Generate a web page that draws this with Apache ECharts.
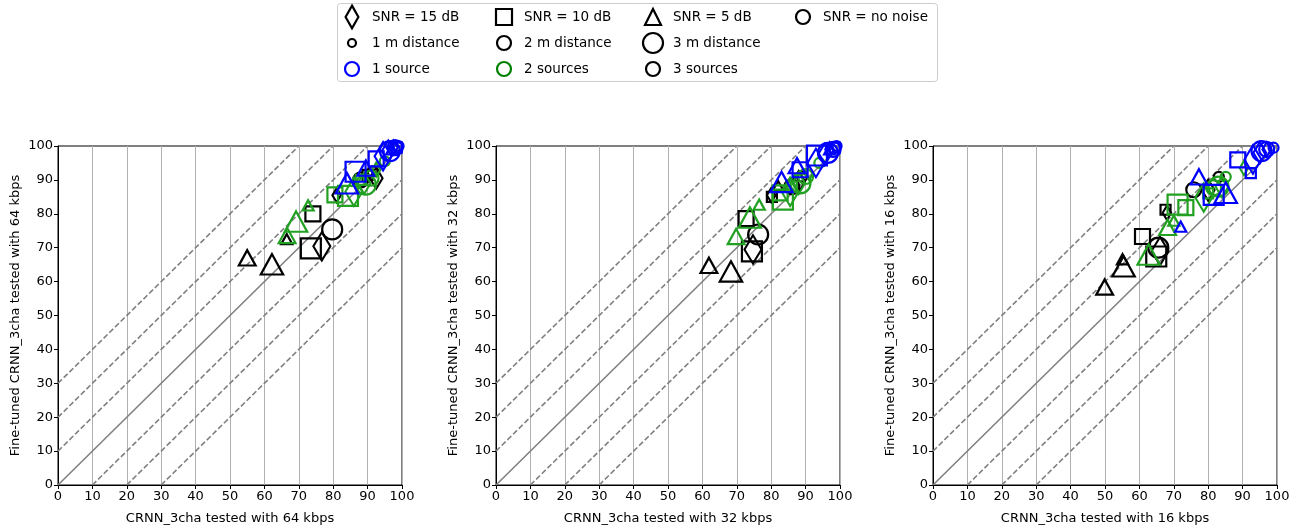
<!DOCTYPE html>
<html><head><meta charset="utf-8">
<script src="https://cdn.jsdelivr.net/npm/echarts@6/dist/echarts.min.js"></script>
<style>html,body{margin:0;padding:0;background:#fff}#c{width:1297px;height:530px}</style>
</head><body><div id="c"></div><script>
// ---------------- data ----------------
const bitrates = ['64', '32', '16'];
const axisTicks = [0, 10, 20, 30, 40, 50, 60, 70, 80, 90, 100];
const diagOffsets = [0, 10, -10, 20, -20, 30, -30];
const snrLabels = ['SNR = 15 dB', 'SNR = 10 dB', 'SNR = 5 dB', 'SNR = no noise'];
const distLabels = ['1 m distance', '2 m distance', '3 m distance'];
const sourceLabels = ['1 source', '2 sources', '3 sources'];
// each array: SNR15 (1m,2m,3m), SNR10 (1m,2m,3m), SNR5 (1m,2m,3m), no noise (1m,2m,3m)
const p64_src1 = [[97.5,99.5],[96,98.5],[94.5,97], [98.5,99.5],[92.5,96.2],[86.5,92.4], [97,99],[89.5,93.5],[84,89], [99,100],[98,99.5],[96.5,98.5]];
const p64_src2 = [[92.5,93],[89,89],[86,86.5], [88,90],[80.5,85.6],[84.3,85.3], [72.7,82.5],[66.6,73.6],[69.2,77.7], [95,95.5],[91,90.5],[89.5,88.6]];
const p64_src3 = [[81,85.5],[92.5,90.5],[76.7,70.4], [90,91.5],[74.1,80],[73.5,69.8], [66.5,72.5],[55,67],[62.2,65.1], [91.5,92.5],[88,90],[79.7,75.4]];
const p32_src1 = [[97,99],[95.5,97.5],[93,95], [98.5,99.5],[88.4,93],[93.3,97.2], [97,99],[87.5,94.2],[83,89.4], [99,100],[98,99],[96.5,98]];
const p32_src2 = [[91,92],[88,89],[85.5,86.5], [86,88],[82.6,86.2],[83.4,84.2], [76.5,82.7],[69.8,73.3],[73.8,78.9], [94,95],[90,91],[88.5,89]];
const p32_src3 = [[80,85.5],[88,89.5],[74.7,69.5], [80.2,85],[72.7,78.6],[74.4,68.9], [82,88.2],[61.9,64.8],[68.3,63], [89,91],[86,88],[76.2,73.9]];
const p16_src1 = [[97,99],[95,98],[93,96], [92.4,92],[88.6,95.9],[81.6,85.6], [72,76.2],[77.3,90.9],[85.1,86.2], [99,99.5],[97,99],[95.5,98.5]];
const p16_src2 = [[90.4,93.5],[84,88],[78.7,84.8], [80,86],[73.5,81.8],[71.1,82.7], [70,78],[68.2,76],[62.7,68], [85.1,90.9],[81.6,87.7],[83,88]];
const p16_src3 = [[68,80.3],[80,87],[66,69], [67.6,81.2],[60.9,73.3],[64.9,67.4], [55.1,66.6],[49.9,58.4],[55.4,64.5], [83.1,90.9],[75.8,87.1],[65.5,70]];
const plotData = [[p64_src1, p64_src2, p64_src3], [p32_src1, p32_src2, p32_src3], [p16_src1, p16_src2, p16_src3]];

// ---------------- style ----------------
const FONT = 'DejaVu Sans';
const srcColors = ['#0000ff', '#22a022', '#000000'];
const legendSrcColors = ['#0000ff', '#008000', '#000000'];
const gridLefts = [58, 496, 933];
const distSize = [10, 15, 20];
const shapeOf = ['path://M0,-10L6,0L0,10L-6,0Z', 'rect', 'triangle', 'circle'];
function sizeFor(shapeIdx, s) {
  if (shapeIdx === 0) return [0.85 * s, 1.42 * s];
  if (shapeIdx === 1) return [s, s];
  if (shapeIdx === 2) return [1.12 * s, 1.02 * s];
  return [s, s];
}

const grids = [], xAxes = [], yAxes = [], series = [];
bitrates.forEach((br, i) => {
  grids.push({left: gridLefts[i], top: 146, width: 344, height: 341, show: true,
    borderColor: '#000', borderWidth: 1, backgroundColor: 'transparent'});
  const common = {
    gridIndex: i, type: 'value', min: axisTicks[0], max: axisTicks[axisTicks.length - 1], interval: 10,
    axisLine: {show: true, onZero: false, lineStyle: {color: '#000', width: 1}},
    axisTick: {show: true, inside: false, length: 4, lineStyle: {color: '#000', width: 1}},
    axisLabel: {color: '#000', fontSize: 13, fontFamily: FONT, margin: 5},
    nameLocation: 'middle',
    nameTextStyle: {color: '#000', fontSize: 13, fontFamily: FONT}
  };
  xAxes.push(Object.assign({}, common, {
    name: 'CRNN_3cha tested with ' + br + ' kbps', nameGap: 27,
    splitLine: {show: true, lineStyle: {color: '#b0b0b0', width: 1}}
  }));
  yAxes.push(Object.assign({}, common, {
    name: 'Fine-tuned CRNN_3cha tested with ' + br + ' kbps', nameGap: 36,
    splitLine: {show: false}
  }));
  diagOffsets.forEach(d => {
    const x0 = Math.max(0, -d), x1 = Math.min(100, 100 - d);
    series.push({type: 'line', xAxisIndex: i, yAxisIndex: i, silent: true, z: 1,
      symbol: 'none', data: [[x0, x0 + d], [x1, x1 + d]],
      lineStyle: {color: '#808080', width: 1.6, type: d === 0 ? 'solid' : [5.5, 2.5]}});
  });
  [2, 1, 0].forEach(k => {
    const pts = plotData[i][k];
    series.push({type: 'scatter', xAxisIndex: i, yAxisIndex: i, z: 3 + (2 - k),
      data: pts.map((p, j) => {
        const sh = Math.floor(j / 3), dist = j % 3;
        return {value: p, symbol: shapeOf[sh], symbolSize: sizeFor(sh, distSize[dist]), symbolKeepAspect: false};
      }),
      itemStyle: {color: 'rgba(0,0,0,0)', borderColor: srcColors[k], borderWidth: 2.2, opacity: 1},
      emphasis: {disabled: true}
    });
  });
});

// ---------------- legend (graphic) ----------------
const legX = [352, 504, 653, 803];
const legY = [17, 43, 69];
const g = [{type: 'rect', shape: {x: 337.5, y: 3.5, width: 600, height: 78, r: 3},
  style: {fill: '#fff', stroke: '#cccccc', lineWidth: 1}}];
function marker(kind, cx, cy, s, color) {
  const st = {fill: 'none', stroke: color, lineWidth: 2.2};
  if (kind === 'circle') return {type: 'circle', shape: {cx, cy, r: s / 2}, style: st};
  if (kind === 'rect') return {type: 'rect', shape: {x: cx - s / 2, y: cy - s / 2, width: s, height: s}, style: st};
  if (kind === 'triangle') return {type: 'polygon', shape: {points: [[cx, cy - s / 2], [cx + s / 2, cy + s / 2], [cx - s / 2, cy + s / 2]]}, style: st};
  return {type: 'polygon', shape: {points: [[cx, cy - s * 0.71], [cx + s * 0.4, cy], [cx, cy + s * 0.71], [cx - s * 0.4, cy]]}, style: st};
}
function label(t, x, y) {
  return {type: 'text', style: {text: t, x, y, font: '13.5px "DejaVu Sans"', fill: '#000', verticalAlign: 'middle', textVerticalAlign: 'middle'}};
}
['diamond', 'rect', 'triangle', 'circle'].forEach((k, c) => {
  g.push(marker(k, legX[c], legY[0], k === 'circle' ? 14 : 16, '#000'));
  g.push(label(snrLabels[c], legX[c] + 20, legY[0]));
});
distLabels.forEach((t, c) => {
  g.push(marker('circle', legX[c], legY[1], [8, 14, 20][c], '#000'));
  g.push(label(t, legX[c] + 20, legY[1]));
});
sourceLabels.forEach((t, c) => {
  g.push(marker('circle', legX[c], legY[2], 14, legendSrcColors[c]));
  g.push(label(t, legX[c] + 20, legY[2]));
});

const chart = echarts.init(document.getElementById('c'), null, {renderer: 'canvas'});
chart.setOption({animation: false, backgroundColor: '#fff', grid: grids, xAxis: xAxes, yAxis: yAxes, series, graphic: g});
</script></body></html>
